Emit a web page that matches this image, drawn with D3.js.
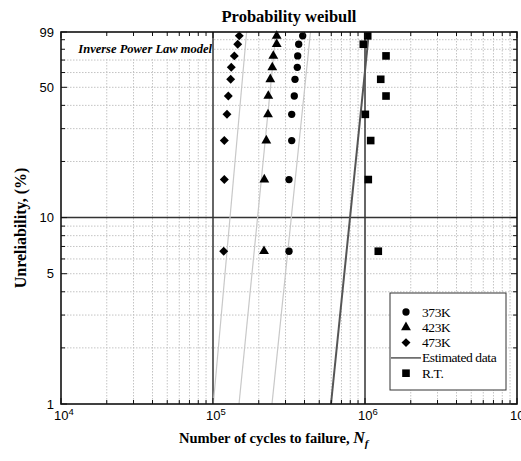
<!DOCTYPE html>
<html>
<head>
<meta charset="utf-8">
<script src="https://cdn.jsdelivr.net/npm/d3@7"></script>
<style>
  body { margin: 0; background: #fff; }
  svg { display: block; }
</style>
</head>
<body>
<svg id="chart" width="521" height="461"></svg>
<script>
// unreliability (%) of each ranked specimen, bottom to top
var unrel = [6.6, 16.0, 25.9, 35.8, 44.9, 55.2, 64.0, 73.7, 85.1, 94.4];

// cycles to failure per temperature (same order as unrel)
var n373 = [3.162e5, 3.162e5, 3.295e5, 3.295e5, 3.426e5, 3.463e5, 3.586e5, 3.608e5, 3.663e5, 3.891e5];
var n423 = [2.166e5, 2.176e5, 2.243e5, 2.301e5, 2.311e5, 2.382e5, 2.455e5, 2.493e5, 2.625e5, 2.625e5];
var n473 = [1.176e5, 1.187e5, 1.187e5, 1.236e5, 1.261e5, 1.307e5, 1.319e5, 1.381e5, 1.454e5, 1.489e5];

// room temperature, one rank missing
var unrelRT = [6.6, 16.0, 25.9, 35.8, 44.9, 55.2, 73.7, 85.1, 94.4];
var nRT = [1.223e6, 1.051e6, 1.090e6, 1.005e6, 1.375e6, 1.269e6, 1.375e6, 9.745e5, 1.042e6];

// fitted lines : cycles at 1% and 99%
var fitEnds = [1, 99];
var fit473 = [1.005e5, 1.664e5];
var fit423 = [1.483e5, 2.597e5];
var fit373 = [2.444e5, 4.379e5];
var estimated = [5.975e5, 1.062e6];

var xTicks = [4, 5, 6, 7];          // exponents
var yTicks = [1, 5, 10, 50, 99];
var yMinor = [2, 3, 4, 6, 7, 8, 9, 20, 30, 40, 60, 70, 80, 90];
var refX = [1e5, 1e6];
var refY = [10];

var legendItems = [
    {label: "373K", sym: "circle"},
    {label: "423K", sym: "triangle"},
    {label: "473K", sym: "diamond"},
    {label: "Estimated data", sym: "line"},
    {label: "R.T.", sym: "square"}
];

let svg = d3.select("#chart");
let pL = 61, pR = 517, pT = 32, pB = 404;

let x = d3.scaleLog().domain([1e4, 1e7]).range([pL, pR]);
let y = d3.scaleLog().domain([1, 99]).range([pB, pT]);

let xMinor = [];
for (let e of [4, 5, 6]) {
    for (let k = 2; k <= 9; k++) xMinor.push(k * Math.pow(10, e));
}

let serif = "'Liberation Serif', 'Times New Roman', serif";
let sans = "'Liberation Sans', Arial, sans-serif";

// grid
let grid = svg.append("g");
grid.selectAll(".gx").data(xMinor).enter().append("line")
    .attr("x1", d => x(d)).attr("x2", d => x(d))
    .attr("y1", pT).attr("y2", pB)
    .attr("stroke", "#c4c4c4").attr("stroke-dasharray", "1.5,1.5");
grid.selectAll(".gy").data(yMinor.concat([5, 50])).enter().append("line")
    .attr("x1", pL).attr("x2", pR)
    .attr("y1", d => y(d)).attr("y2", d => y(d))
    .attr("stroke", "#c4c4c4").attr("stroke-dasharray", "1.5,1.5");

// white box behind the model name
svg.append("rect")
    .attr("x", pL + 1).attr("y", pT + 2)
    .attr("width", x(1e5) - pL - 2).attr("height", 24)
    .attr("fill", "#fff");

svg.append("text")
    .attr("x", x(1e5) - 1).attr("y", 53)
    .attr("text-anchor", "end")
    .style("font-family", serif).style("font-size", "12.5px")
    .style("font-weight", "bold").style("font-style", "italic")
    .text("Inverse Power Law model");

// reference lines
svg.selectAll(".rx").data(refX).enter().append("line")
    .attr("x1", d => x(d)).attr("x2", d => x(d))
    .attr("y1", pT).attr("y2", pB)
    .attr("stroke", "#666").attr("stroke-width", 2);
svg.selectAll(".ry").data(refY).enter().append("line")
    .attr("x1", pL).attr("x2", pR)
    .attr("y1", d => y(d)).attr("y2", d => y(d))
    .attr("stroke", "#333").attr("stroke-width", 1.5);

// fitted lines
let line = d3.line().x(d => x(d[0])).y(d => y(d[1]));
for (let f of [fit473, fit423, fit373]) {
    svg.append("path")
        .attr("d", line(d3.zip(f, fitEnds)))
        .attr("fill", "none").attr("stroke", "#c8c8c8").attr("stroke-width", 1.2);
}
svg.append("path")
    .attr("d", line(d3.zip(estimated, fitEnds)))
    .attr("fill", "none").attr("stroke", "#555").attr("stroke-width", 2);

// markers
let squareDiamond = {
    draw: function(ctx, size) {
        let r = Math.sqrt(size / 2);
        ctx.moveTo(0, -r);
        ctx.lineTo(r, 0);
        ctx.lineTo(0, r);
        ctx.lineTo(-r, 0);
        ctx.closePath();
    }
};
let symbols = {
    circle: d3.symbol().type(d3.symbolCircle).size(42),
    triangle: d3.symbol().type(d3.symbolTriangle).size(42),
    diamond: d3.symbol().type(squareDiamond).size(40),
    square: d3.symbol().type(d3.symbolSquare).size(58)
};

function drawSeries(ns, fs, sym) {
    svg.append("g").selectAll("path")
        .data(d3.zip(ns, fs)).enter().append("path")
        .attr("transform", d => "translate(" + x(d[0]) + "," + y(d[1]) + ")")
        .attr("d", symbols[sym]())
        .attr("fill", "#000");
}
drawSeries(n373, unrel, "circle");
drawSeries(n423, unrel, "triangle");
drawSeries(n473, unrel, "diamond");
drawSeries(nRT, unrelRT, "square");

// frame
svg.append("rect")
    .attr("x", pL).attr("y", pT)
    .attr("width", pR - pL).attr("height", pB - pT)
    .attr("fill", "none").attr("stroke", "#111").attr("stroke-width", 1.6);

// ticks on all sides, pointing inward
let ticks = svg.append("g").attr("stroke", "#111").attr("stroke-width", 1);
let allX = xTicks.map(e => Math.pow(10, e));
for (let d of allX.concat(xMinor)) {
    let len = allX.includes(d) ? 6 : 4;
    ticks.append("line").attr("x1", x(d)).attr("x2", x(d)).attr("y1", pB).attr("y2", pB - len);
    ticks.append("line").attr("x1", x(d)).attr("x2", x(d)).attr("y1", pT).attr("y2", pT + len);
}
for (let d of yTicks.concat(yMinor)) {
    let len = yTicks.includes(d) ? 6 : 4;
    ticks.append("line").attr("y1", y(d)).attr("y2", y(d)).attr("x1", pL).attr("x2", pL + len);
    ticks.append("line").attr("y1", y(d)).attr("y2", y(d)).attr("x1", pR).attr("x2", pR - len);
}

// tick labels
svg.selectAll(".yl").data(yTicks).enter().append("text")
    .attr("x", 54).attr("y", d => y(d) + 4.5)
    .attr("text-anchor", "end")
    .style("font-family", sans).style("font-size", "13px")
    .text(d => d);

let xl = svg.selectAll(".xl").data(xTicks).enter().append("text")
    .attr("x", d => x(Math.pow(10, d)) + 3).attr("y", 420)
    .attr("text-anchor", "middle")
    .style("font-family", sans).style("font-size", "13px");
xl.append("tspan").text("10");
xl.append("tspan").attr("dy", -5).style("font-size", "9.5px").text(d => d);

// titles
svg.append("text")
    .attr("x", (pL + pR) / 2).attr("y", 22)
    .attr("text-anchor", "middle")
    .style("font-family", serif).style("font-size", "16.5px").style("font-weight", "bold")
    .text("Probability weibull");

svg.append("text")
    .attr("transform", "translate(26,228) rotate(-90)")
    .attr("text-anchor", "middle")
    .style("font-family", serif).style("font-size", "16px").style("font-weight", "bold")
    .text("Unreliability, (%)");

let xt = svg.append("text")
    .attr("x", 179).attr("y", 443)
    .style("font-family", serif).style("font-size", "14.5px").style("font-weight", "bold");
xt.append("tspan").text("Number of cycles to failure,\u00a0");
xt.append("tspan").style("font-style", "italic").style("font-size", "16px").text("N");
xt.append("tspan").attr("dy", 4).style("font-style", "italic").style("font-size", "11px").text("f");

// legend
let lg = svg.append("g");
lg.append("rect")
    .attr("x", 390).attr("y", 293).attr("width", 116).attr("height", 97)
    .attr("fill", "#fff").attr("stroke", "#333").attr("stroke-width", 1);

legendItems.forEach((it, i) => {
    let ly = 312 + i * 15.3;
    if (it.sym === "line") {
        lg.append("line").attr("x1", 391).attr("x2", 421).attr("y1", ly).attr("y2", ly)
            .attr("stroke", "#555").attr("stroke-width", 1.5);
    } else {
        lg.append("path")
            .attr("transform", "translate(406," + ly + ")")
            .attr("d", symbols[it.sym]())
            .attr("fill", "#000");
    }
    lg.append("text")
        .attr("x", 422).attr("y", ly + 4.5)
        .style("font-family", serif).style("font-size", "13.5px")
        .style("letter-spacing", "-0.4px")
        .text(it.label);
});
</script>
</body>
</html>
